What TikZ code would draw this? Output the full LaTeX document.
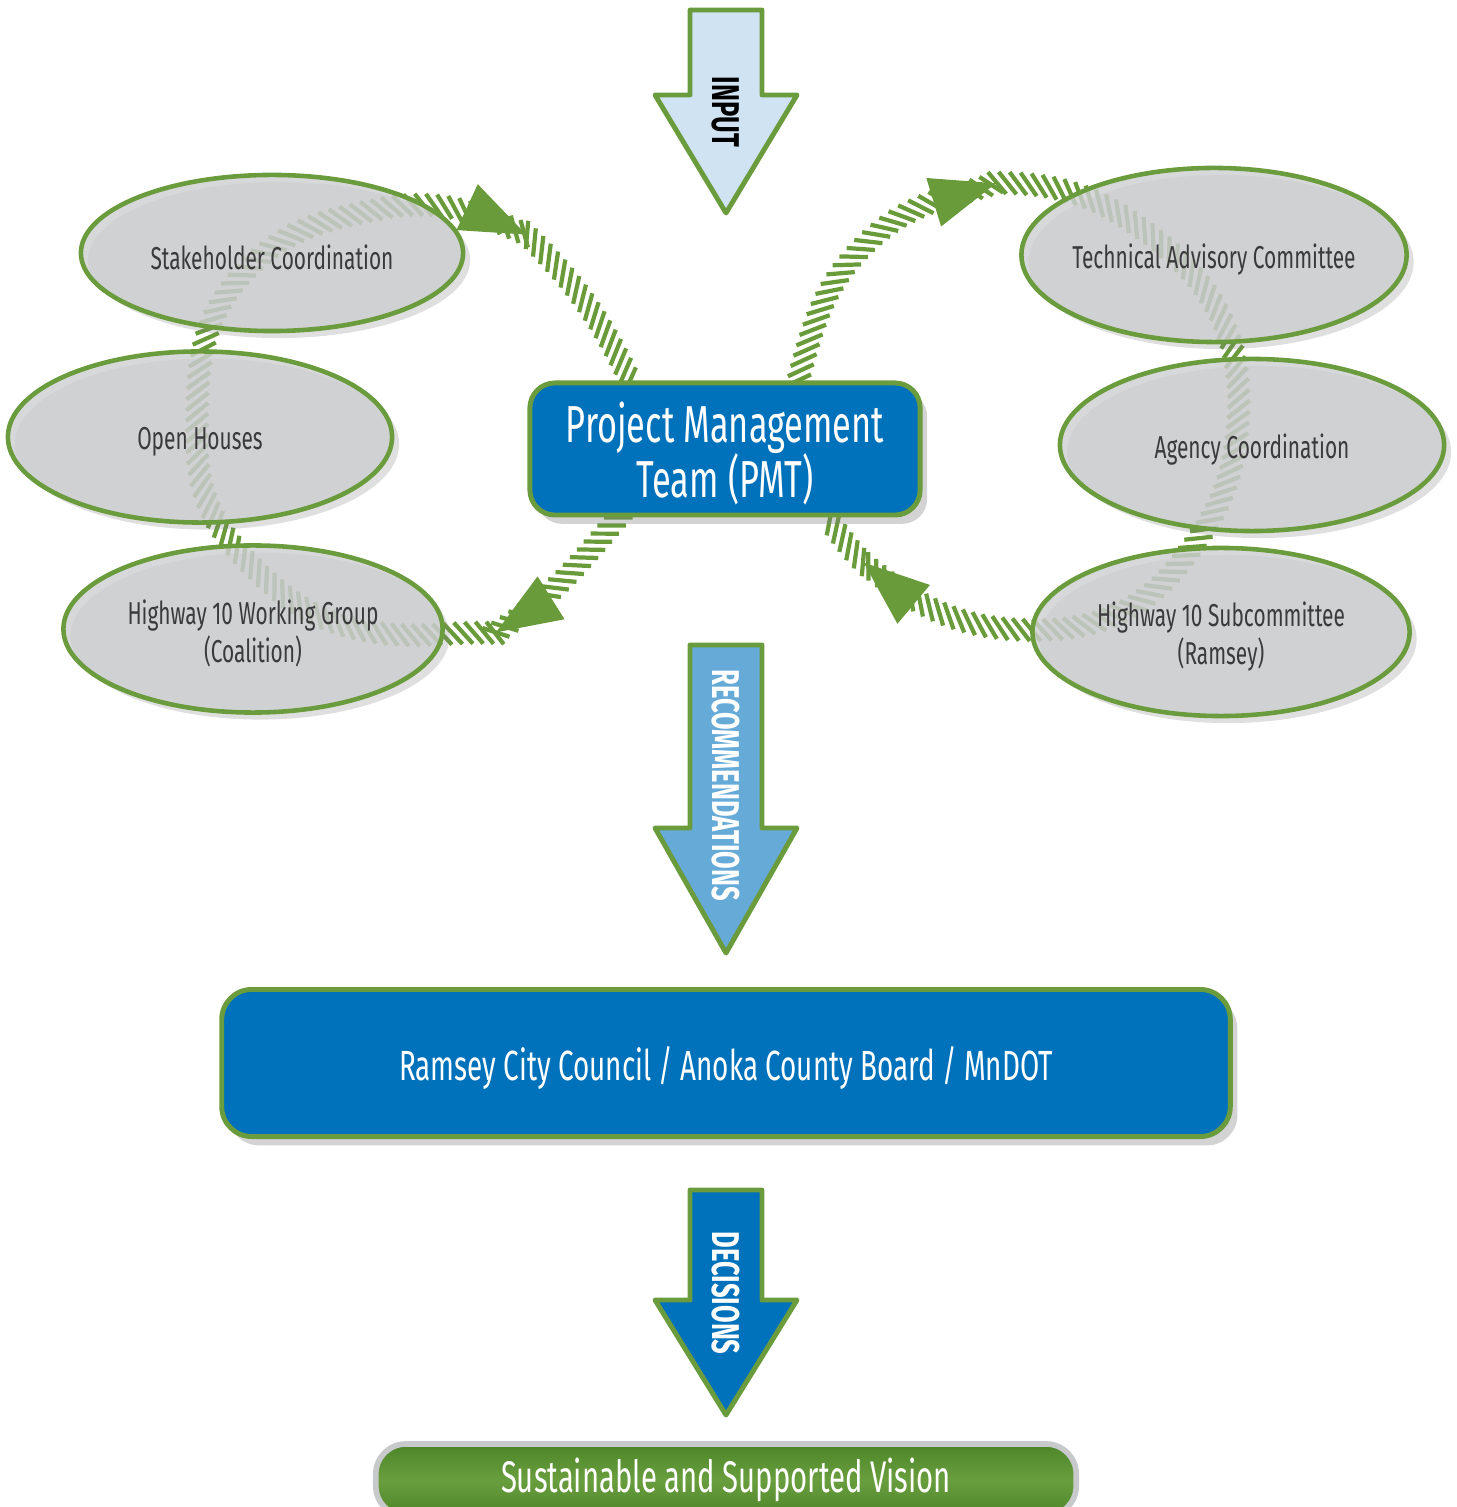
\documentclass[tikz,border=0pt]{standalone}
\usepackage{fontspec}
\setmainfont{Fira Sans}[FakeStretch=0.66]
\usetikzlibrary{shapes,shadows,calc,decorations.markings}
\pgfdeclarelayer{background}
\pgfsetlayers{background,main}
\newcommand{\hatchbar}{\draw[loopgreen,line width=1.2pt] (-2.6pt,3.1pt) -- (2.6pt,-3.1pt);}
\newcommand{\hatchhead}{\fill[loopgreen] (0pt,0pt) -- (-18.5pt,7.2pt) -- (-18.5pt,-7.2pt) -- cycle;}

\begin{document}
\begin{tikzpicture}[x=0.01cm,y=-0.01cm,
	bubble/.style={ellipse,draw=edgegreen,line width=1.3pt,fill=bubblegray,fill opacity=0.82,inner sep=0pt,drop shadow={shadow xshift=2pt,shadow yshift=-2pt,opacity=0.25}},
	bubbletext/.style={text=bubbleink,align=center,yshift=-1.3pt,font=\fontsize{9}{10.8}\selectfont},
	teambox/.style={rounded corners=0.25cm,draw=edgegreen,line width=1.4pt,fill=teamblue,text=white,align=center,drop shadow={shadow xshift=2pt,shadow yshift=-2.5pt,opacity=0.35}},
	bigarrow/.style={draw=edgegreen,line width=1.4pt,line join=round},
	arrowtext/.style={rotate=-90,font=\fontsize{11}{11}\bfseries\selectfont},
	hatch/.style={decorate,decoration={markings,mark=between positions 0 and 1 step 3pt with {\hatchbar}}},
	hatchtip/.style={decorate,decoration={markings,mark=between positions 0 and 1 step 3pt with {\hatchbar},mark=at position -0.3pt with {\hatchhead}}}]
	\definecolor{edgegreen}{HTML}{6A9B3D}
	\definecolor{loopgreen}{HTML}{699B3B}
	\definecolor{bubblegray}{HTML}{CECFD1}
	\definecolor{bubbleink}{HTML}{3A3A3C}
	\definecolor{teamblue}{HTML}{0071BB}
	\definecolor{inputblue}{HTML}{CFE3F2}
	\definecolor{recblue}{HTML}{66AAD7}
	\definecolor{visiondark}{HTML}{4C8528}
	\definecolor{visionlight}{HTML}{699E3E}
	\definecolor{visionedge}{HTML}{C8C9CB}
	\useasboundingbox (0,0) rectangle (1456,1507);

	\node[bubble,minimum width=3.82cm,minimum height=1.56cm,label={[bubbletext]center:Stakeholder Coordination}] (stake) at (272,253) {};
	\node[bubble,minimum width=3.84cm,minimum height=1.71cm,label={[bubbletext]center:Open Houses}] (open) at (200,437) {};
	\node[bubble,minimum width=3.79cm,minimum height=1.67cm,label={[bubbletext]center:Highway 10 Working Group\\(Coalition)}] (work) at (253,629) {};
	\node[bubble,minimum width=3.85cm,minimum height=1.74cm,label={[bubbletext]center:Technical Advisory Committee}] (tac) at (1214,255) {};
	\node[bubble,minimum width=3.84cm,minimum height=1.72cm,label={[bubbletext]center:Agency Coordination}] (agency) at (1252,445) {};
	\node[bubble,minimum width=3.77cm,minimum height=1.68cm,label={[bubbletext]center:Highway 10 Subcommittee\\(Ramsey)}] (sub) at (1221,632) {};

	\node[teambox,inner ysep=1pt,minimum width=3.9cm,minimum height=1.32cm,font=\fontsize{14.8}{15}\selectfont] (pmt) at (725,449) {\rule{0pt}{14pt}Project Management\\[-1.2pt]Team (PMT)};
	\node[teambox,rounded corners=0.3cm,minimum width=10.08cm,minimum height=1.47cm,font=\fontsize{12}{14}\selectfont] (council) at (726,1063) {\rule{0pt}{12.5pt}Ramsey City Council / Anoka County Board / MnDOT};
	\node[rounded corners=0.3cm,draw=visionedge,line width=1.6pt,top color=visiondark,bottom color=visiondark,middle color=visionlight,text=white,minimum width=7.0cm,minimum height=0.72cm,font=\fontsize{12.6}{13}\selectfont] (vision) at (726,1480) {Sustainable and Supported Vision};

	\draw[bigarrow,fill=inputblue] (690,10) -- (762,10) -- (762,95) -- (797,95) -- (726,213) -- (655,95) -- (690,95) -- cycle;
	\draw[bigarrow,fill=recblue] (690,645) -- (762,645) -- (762,828) -- (797,828) -- (726,953) -- (655,828) -- (690,828) -- cycle;
	\draw[bigarrow,fill=teamblue] (690,1190) -- (762,1190) -- (762,1300) -- (797,1300) -- (726,1415) -- (655,1300) -- (690,1300) -- cycle;
	\node[arrowtext] (input) at (726,112) {INPUT};
	\node[arrowtext,text=white] (recommend) at (726,785) {RECOMMENDATIONS};
	\node[arrowtext,text=white] (decide) at (726,1293) {DECISIONS};

	\coordinate (lstart) at ($(pmt.south west)!0.23!(pmt.south east)$);
	\coordinate (lend) at ($(pmt.north west)!0.26!(pmt.north east)$);
	\coordinate (rstart) at ($(pmt.north west)!0.685!(pmt.north east)$);
	\coordinate (rend) at ($(pmt.south west)!0.756!(pmt.south east)$);
	\coordinate (tipwork) at (495,633);
	\coordinate (tipstake) at (527,235);
	\coordinate (tiptac) at (997,183);
	\coordinate (tipsub) at (863,562);
	\begin{pgfonlayer}{background}
		\path[hatchtip] (lstart) to[out=230,in=32] (tipwork);
		\path[hatchtip] (tipwork) to[out=178,in=-7] (380,633) to[out=172,in=-45] (253,567) to[out=135,in=-90] (197,440) to[out=90,in=228] (242,275) to[out=48,in=191] (380,209) to[out=11,in=155] (tipstake);
		\path[hatch] (tipstake) to[out=-45,in=116] (lend);
		\path[hatchtip] (rstart) to[out=75,in=223] (870,240) to[out=43,in=197] (tiptac);
		\path[hatchtip] (tiptac) to[out=0,in=143] (1150,235) to[out=-37,in=86] (1238,420) to[out=-94,in=53] (1185,557) to[out=233,in=0] (1035,630) to[out=180,in=-40] (tipsub);
		\path[hatch] (tipsub) to[out=135,in=310] (rend);
	\end{pgfonlayer}
\end{tikzpicture}
\end{document}
